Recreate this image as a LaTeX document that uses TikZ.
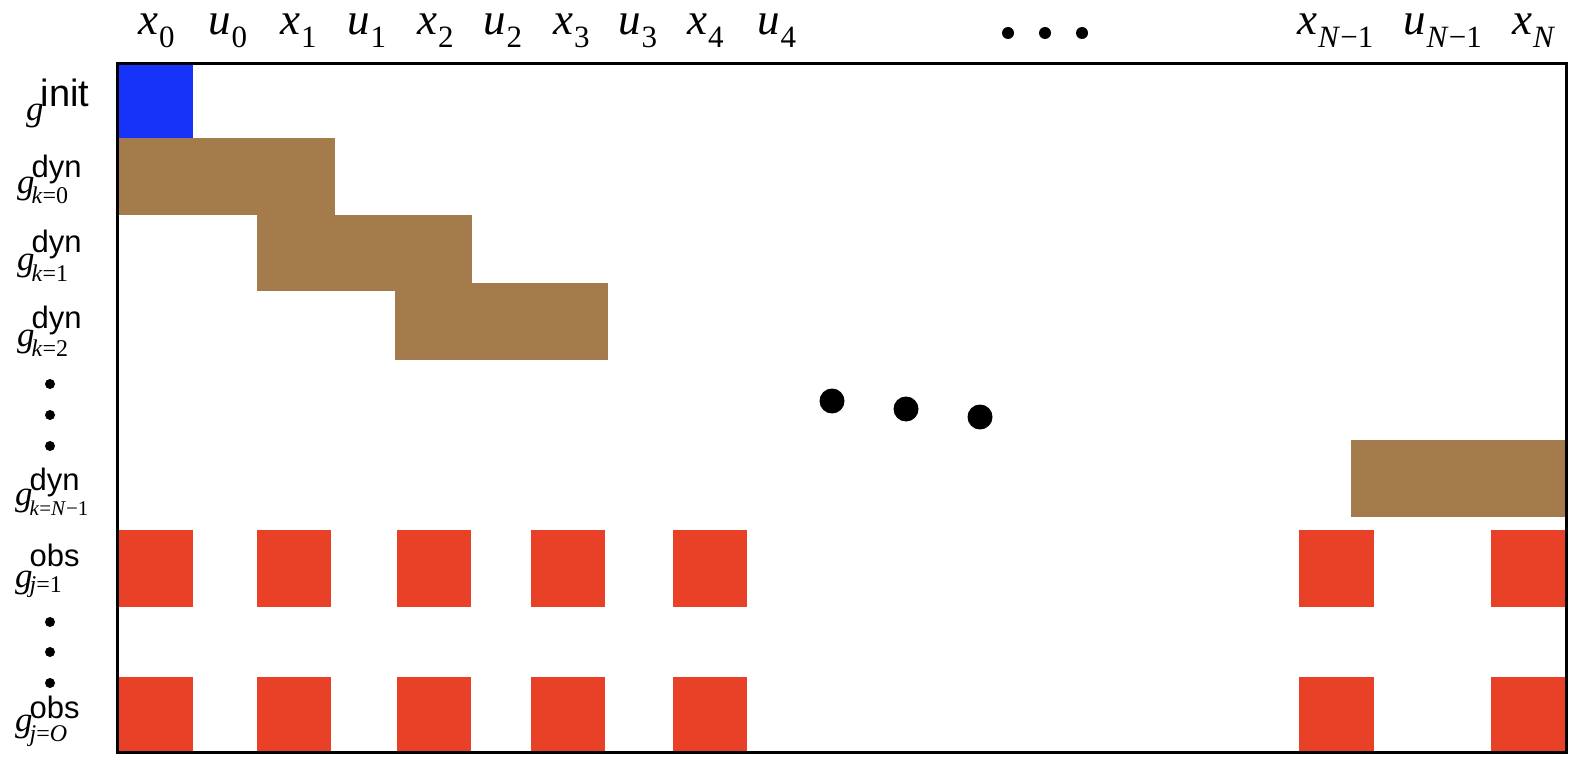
\documentclass[tikz,border=0pt]{standalone}
\usepackage{fontspec}
\setmainfont{Liberation Serif}
\setsansfont{Liberation Sans}
\definecolor{initblue}{HTML}{1733FA}
\definecolor{dynbrown}{HTML}{A47B4A}
\definecolor{obsred}{HTML}{E94127}
% column label: italic letter with upright subscript
\newcommand\clab[2]{{\fontsize{45}{45}\selectfont\textit{#1}}\kern1pt\lower 13pt\hbox{\fontsize{31}{31}\selectfont #2}}
% row label: g with stacked sans superscript and serif subscript
\newcommand\glab[5]{{\fontsize{35}{35}\selectfont\textit{g}}\kern-3pt%
  \setbox0\hbox{\fontsize{#1}{#1}\sffamily #2}%
  \setbox2\hbox{\fontsize{24}{24}\selectfont #3}%
  \ifdim\wd0>\wd2 \dimen0=\wd0 \else \dimen0=\wd2 \fi
  \hbox to \dimen0{\rlap{\raise #4\box0}\rlap{\lower #5\box2}\hfil}}
\tikzset{
  collab/.style={anchor=base west, inner sep=0pt},
  rowlab/.style={anchor=base west, inner sep=0pt},
  initblk/.style={fill=initblue},
  dynblk/.style={fill=dynbrown},
  obsblk/.style={fill=obsred},
  frame/.style={line width=3pt, draw=black},
}
\begin{document}
\begin{tikzpicture}[x=1pt, y=-1pt]
\useasboundingbox (0,0) rectangle (1575,762);
% blocks
\fill[initblk] (118,65) rectangle (193,138);
\fill[dynblk] (118,138) rectangle (335,215);
\fill[dynblk] (257,215) rectangle (472,291);
\fill[dynblk] (395,283) rectangle (608,360);
\fill[dynblk] (1351,440) rectangle (1566,517);
\foreach \a/\b in {118/193,257/331,397/471,531/605,673/747,1299/1374,1491/1566}{
  \fill[obsblk] (\a,530) rectangle (\b,607);
  \fill[obsblk] (\a,677) rectangle (\b,752);
}
% frame
\draw[frame] (117,64) rectangle (1566,752);
% middle dots
\fill (832,401) circle (12.5);
\fill (906,409) circle (12.5);
\fill (980,417) circle (12.5);
% top dots
\foreach \x in {1008,1045,1082} \fill (\x,33) circle (6);
% left dots
\foreach \y in {384,415,446,622,652,683} \fill (50,\y) circle (5);
% column labels
\node[collab] (cx0) at (138,35) {\clab{x}{0}};
\node[collab] (cu0) at (208,35) {\clab{u}{0}};
\node[collab] (cx1) at (280,35) {\clab{x}{1}};
\node[collab] (cu1) at (347,35) {\clab{u}{1}};
\node[collab] (cx2) at (417,35) {\clab{x}{2}};
\node[collab] (cu2) at (483,35) {\clab{u}{2}};
\node[collab] (cx3) at (553,35) {\clab{x}{3}};
\node[collab] (cu3) at (618,35) {\clab{u}{3}};
\node[collab] (cx4) at (687,35) {\clab{x}{4}};
\node[collab] (cu4) at (757,35) {\clab{u}{4}};
\node[collab] (cxN1) at (1297,35) {\clab{x}{\textit{N}−1}};
\node[collab] (cuN1) at (1403,35) {\clab{u}{\textit{N}−1}};
\node[collab] (cxN) at (1512,35) {\clab{x}{\textit{N}}};
% row labels
\node[rowlab] (rinit) at (26,121) {\glab{38}{init}{}{14pt}{10pt}};
\node[rowlab] (rk0) at (17,194) {\glab{31}{dyn}{\textit{k}=0}{16pt}{10pt}};
\node[rowlab] (rk1) at (17,271) {\glab{31}{dyn}{\textit{k}=1}{18pt}{10pt}};
\node[rowlab] (rk2) at (17,346) {\glab{31}{dyn}{\textit{k}=2}{18pt}{10pt}};
\node[rowlab] (rkN) at (15,505) {\glab{31}{dyn}{\fontsize{21}{21}\selectfont\textit{k}=\textit{N}−1}{15pt}{10pt}};
\node[rowlab] (ro1) at (15,587) {\glab{31}{obs}{\textit{j}=1}{21pt}{5pt}};
\node[rowlab] (roO) at (15,731) {\glab{31}{obs}{\textit{j}=\textit{O}}{13pt}{10pt}};
\end{tikzpicture}
\end{document}
